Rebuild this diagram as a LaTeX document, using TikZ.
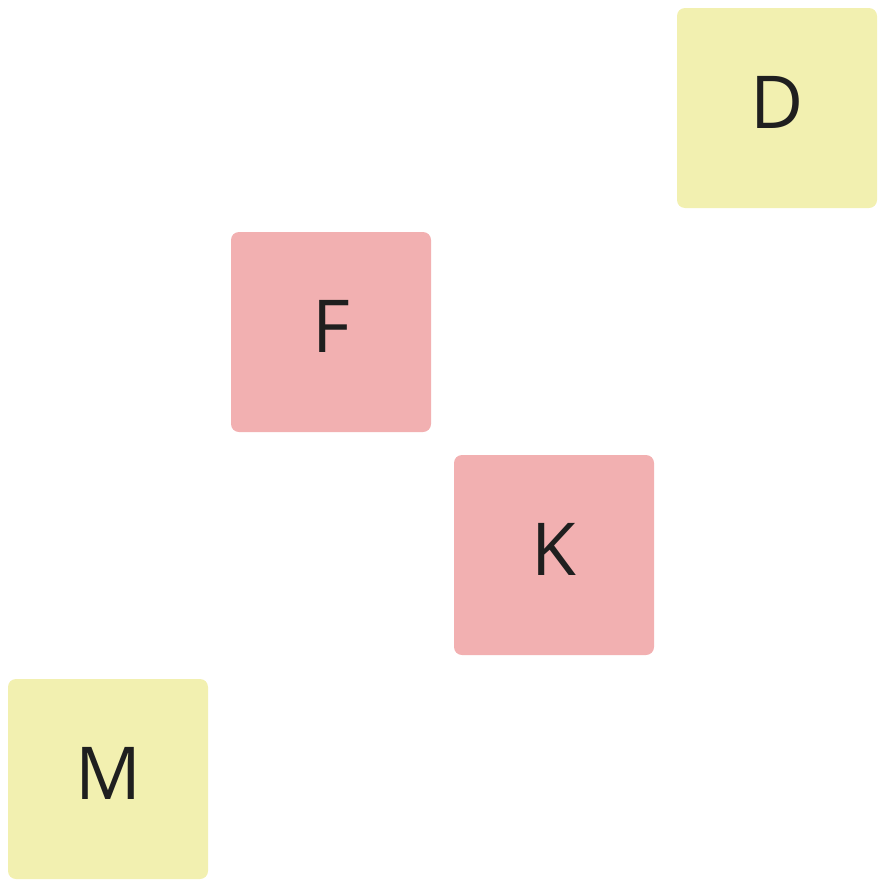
\documentclass[tikz,border=0pt]{standalone}
\usepackage{fontspec}
\setmainfont{Open Sans}
\definecolor{yel}{HTML}{F2F0B0}
\definecolor{pnk}{HTML}{F2B0B1}
\definecolor{txt}{HTML}{1F1F1F}
\begin{document}
\begin{tikzpicture}[x=1pt,y=-1pt,
  card/.style={minimum width=200pt,minimum height=200pt,inner sep=0pt,rounded corners=8pt,
    text=txt,text height=53pt,text depth=12pt,font=\fontsize{73}{80}\selectfont}]
\useasboundingbox (0,0) rectangle (885,886);
\node[card,fill=yel] (D) at (777,108) {D};
\node[card,fill=pnk] (F) at (331,332) {F};
\node[card,fill=pnk] (K) at (554,555) {K};
\node[card,fill=yel] (M) at (108,779) {M};
\end{tikzpicture}
\end{document}
